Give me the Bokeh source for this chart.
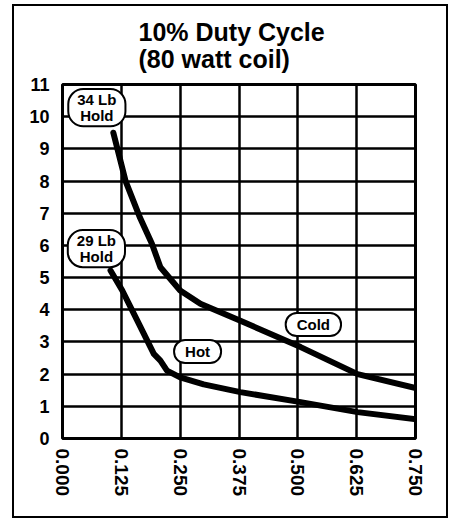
import math
from bokeh.plotting import figure
from bokeh.models import Title, Label, FixedTicker, InlineStyleSheet
from bokeh.embed import file_html
from bokeh.resources import INLINE

# ---- data ----
x_ticks = [0.0, 0.125, 0.25, 0.375, 0.5, 0.625, 0.75]
x_tick_labels = ["0.000", "0.125", "0.250", "0.375", "0.500", "0.625", "0.750"]
y_ticks = list(range(0, 12))

cold_x = [0.108, 0.134, 0.165, 0.19, 0.208, 0.25, 0.293, 0.378, 0.506, 0.627, 0.755]
cold_y = [9.5, 8.0, 6.85, 6.05, 5.32, 4.6, 4.19, 3.66, 2.84, 2.0, 1.55]

hot_x = [0.102, 0.127, 0.16, 0.194, 0.208, 0.222, 0.25, 0.3, 0.378, 0.506, 0.627, 0.755]
hot_y = [5.22, 4.6, 3.63, 2.63, 2.42, 2.11, 1.9, 1.68, 1.44, 1.13, 0.82, 0.59]

bubble_text = ["34 Lb\nHold", "29 Lb\nHold", "Cold", "Hot"]
bubble_x = [0.073, 0.072, 0.533, 0.287]
bubble_y = [10.28, 5.9, 3.54, 2.7]

title_text = "10% Duty Cycle\n(80 watt coil)"

FONT = "Liberation Sans"

frame_css = InlineStyleSheet(css="""
:host { position: relative; }
:host::after {
  content: "";
  position: absolute;
  left: 12px; top: 4px; width: 436px; height: 514px;
  border: 2.5px solid black;
  box-sizing: border-box;
  z-index: 1000;
  pointer-events: none;
}
""")

p = figure(width=451, height=519, output_backend="svg", toolbar_location=None,
           x_range=(0, 0.75), y_range=(0, 11), title=None,
           min_border_left=62, min_border_right=36, min_border_top=84, min_border_bottom=81)
p.stylesheets = [frame_css]

title = Title(text=title_text, align="left", offset=76, text_font=FONT, text_font_size="25px",
              text_font_style="bold", text_color="black", standoff=22, text_line_height=0.98)
p.add_layout(title, "above")

p.outline_line_color = "black"
p.outline_line_width = 3
p.xgrid.ticker = FixedTicker(ticks=x_ticks)
p.ygrid.ticker = FixedTicker(ticks=y_ticks)
for g in (p.xgrid, p.ygrid):
    g.grid_line_color = "black"
    g.grid_line_width = 2.5
    g.grid_line_alpha = 1.0

p.xaxis.ticker = FixedTicker(ticks=x_ticks)
p.xaxis.major_label_overrides = {t: l for t, l in zip(x_ticks, x_tick_labels)}
p.yaxis.ticker = FixedTicker(ticks=y_ticks)
for ax in (p.xaxis, p.yaxis):
    ax.axis_line_color = None
    ax.major_tick_line_color = None
    ax.minor_tick_line_color = None
    ax.major_tick_out = 0
    ax.major_tick_in = 0
    ax.major_label_text_font = FONT
    ax.major_label_text_font_style = "bold"
    ax.major_label_text_color = "black"
p.xaxis.major_label_text_font_size = "19px"
p.yaxis.major_label_text_font_size = "18px"
p.xaxis.major_label_orientation = -math.pi / 2
p.xaxis.major_label_standoff = 10
p.yaxis.major_label_standoff = 13

p.line(cold_x, cold_y, line_color="black", line_width=6, line_join="round", line_cap="round")
p.line(hot_x, hot_y, line_color="black", line_width=6, line_join="round", line_cap="round")

for t, bx, by in zip(bubble_text, bubble_x, bubble_y):
    two = "\n" in t
    lab = Label(x=bx, y=by, text=t, text_align="center", text_baseline="middle",
                text_font=FONT, text_font_style="bold", text_font_size="15px", text_color="black",
                background_fill_color="white", border_line_color="black", border_line_width=2,
                padding=dict(left=9 if two else 11, right=9 if two else 11,
                             top=2 if two else 3, bottom=2 if two else 3),
                border_radius=15 if two else 11, text_line_height=0.95)
    p.add_layout(lab)

open("out.html", "w").write(file_html(p, INLINE))
